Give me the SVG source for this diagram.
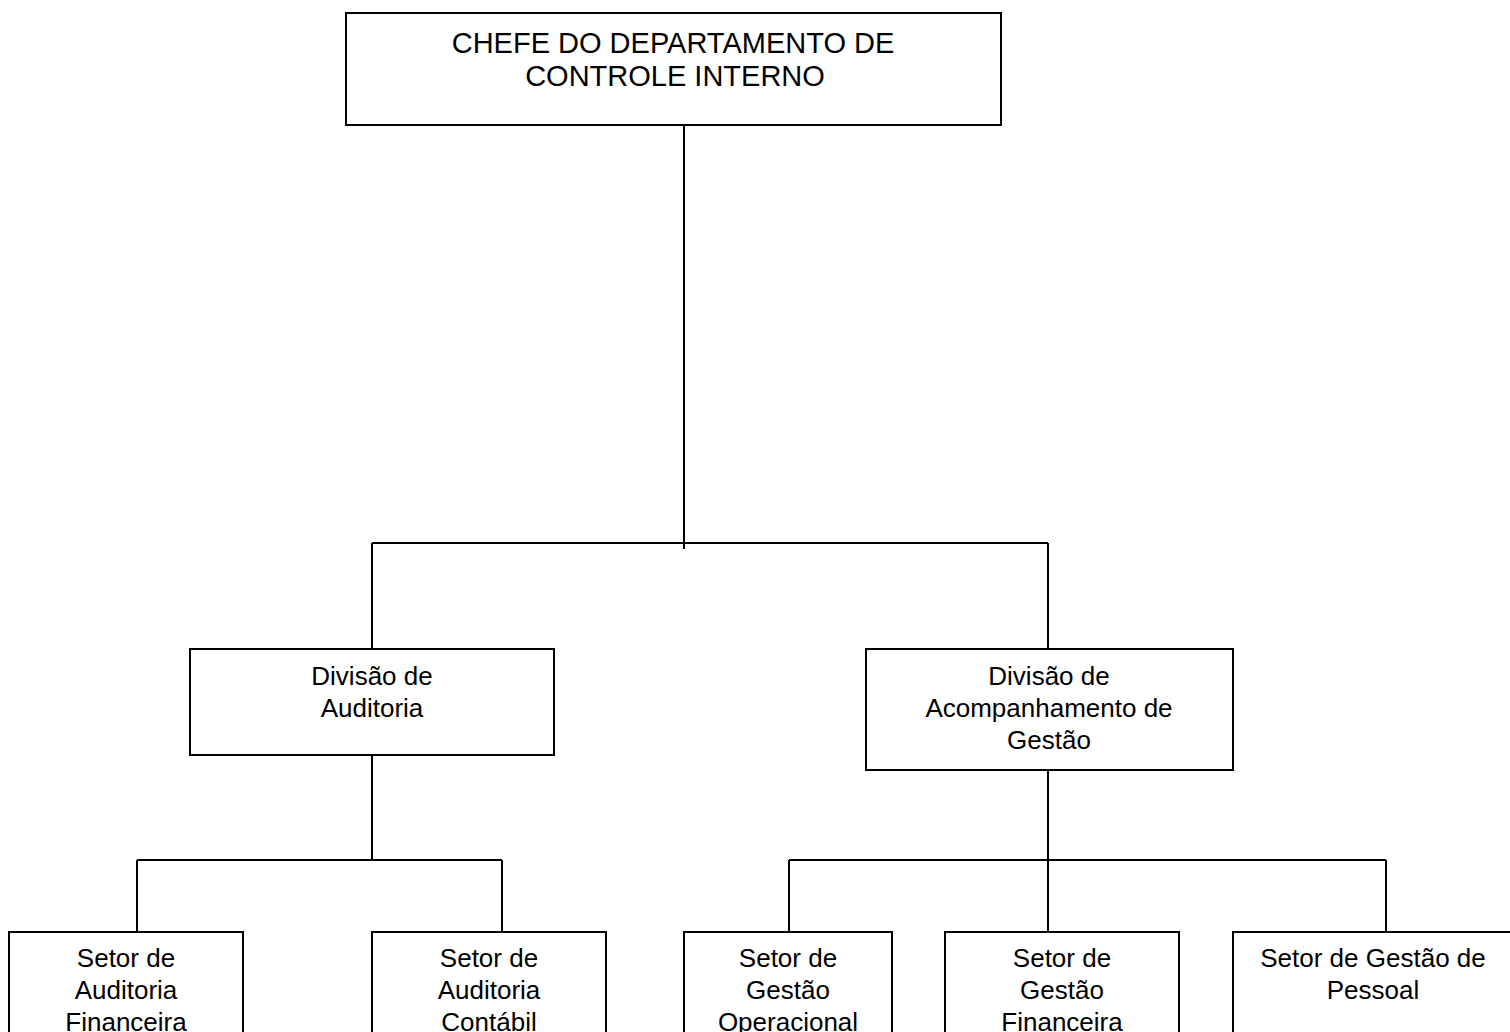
<svg xmlns="http://www.w3.org/2000/svg" width="1510" height="1032" viewBox="0 0 1510 1032">
<style>
.box{fill:#fff;stroke:#000;stroke-width:2}
.ln{stroke:#000;stroke-width:2;fill:none}
text{font-family:"Liberation Sans",Arial,sans-serif;font-size:26px;fill:#000;text-anchor:middle}
.big{font-size:29px}
</style>
<rect width="1510" height="1032" fill="#fff"/>
<g id="connectors">
<path class="ln" d="M684 125V549M372 543H1048M372 543V649M1048 543V649"/>
<path class="ln" d="M372 755V860M137 860H502M137 860V932M502 860V932"/>
<path class="ln" d="M1048 770V860M789 860H1386M789 860V932M1048 860V932M1386 860V932"/>
</g>
<g id="chefe">
<rect class="box" x="346" y="13" width="655" height="112"/>
<text class="big" x="673" y="53">CHEFE DO DEPARTAMENTO DE</text>
<text class="big" x="675" y="86">CONTROLE INTERNO</text>
</g>
<g id="div-auditoria">
<rect class="box" x="190" y="649" width="364" height="106"/>
<text x="372" y="685">Divisão de</text>
<text x="372" y="717">Auditoria</text>
</g>
<g id="div-acompanhamento">
<rect class="box" x="866" y="649" width="367" height="121"/>
<text x="1049" y="685">Divisão de</text>
<text x="1049" y="717">Acompanhamento de</text>
<text x="1049" y="749">Gestão</text>
</g>
<g id="setor-aud-fin">
<rect class="box" x="9" y="932" width="234" height="120"/>
<text x="126" y="967">Setor de</text>
<text x="126" y="999">Auditoria</text>
<text x="126" y="1031">Financeira</text>
</g>
<g id="setor-aud-cont">
<rect class="box" x="372" y="932" width="234" height="120"/>
<text x="489" y="967">Setor de</text>
<text x="489" y="999">Auditoria</text>
<text x="489" y="1031">Contábil</text>
</g>
<g id="setor-gest-op">
<rect class="box" x="684" y="932" width="208" height="120"/>
<text x="788" y="967">Setor de</text>
<text x="788" y="999">Gestão</text>
<text x="788" y="1031">Operacional</text>
</g>
<g id="setor-gest-fin">
<rect class="box" x="945" y="932" width="234" height="120"/>
<text x="1062" y="967">Setor de</text>
<text x="1062" y="999">Gestão</text>
<text x="1062" y="1031">Financeira</text>
</g>
<g id="setor-gest-pes">
<rect class="box" x="1233" y="932" width="280" height="120"/>
<text x="1373" y="967">Setor de Gestão de</text>
<text x="1373" y="999">Pessoal</text>
</g>
</svg>
